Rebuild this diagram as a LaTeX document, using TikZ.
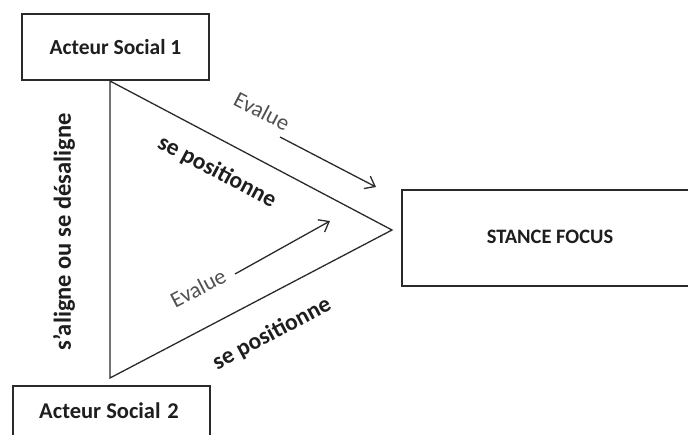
\documentclass[tikz,border=0pt]{standalone}
\usepackage{fontspec}
\setmainfont{Carlito}
\usetikzlibrary{arrows.meta}
\definecolor{ink}{HTML}{1E1E1E}
\definecolor{evgray}{HTML}{505050}
\definecolor{lineg}{HTML}{2A2A2A}
\begin{document}
\begin{tikzpicture}[x=1pt,y=-1pt,
  box/.style={draw=lineg,line width=1.5pt,fill=white,inner sep=0pt},
  boxtext/.style={font=\fontsize{21.5}{24}\selectfont\bfseries,text=ink},
  tri/.style={draw=lineg,line width=1.3pt},
  evarrow/.style={draw=lineg,line width=1.3pt,-{Straight Barb[length=9pt,width=14pt,line width=1.3pt]}},
  evlabel/.style={font=\fontsize{22.5}{24}\selectfont,text=evgray,inner sep=0pt},
  poslabel/.style={font=\fontsize{23.5}{24}\selectfont\bfseries,text=ink,inner sep=0pt}]
\useasboundingbox (0,0) rectangle (688,434);
% boxes
\node[box,minimum width=187pt,minimum height=66pt] (a1) at (115.5,47) {};
\node[boxtext] at (a1.center) {Acteur Social 1};
\node[box,minimum width=197pt,minimum height=80pt,anchor=north west] (a2) at (12,385) {};
\node[boxtext,font=\fontsize{22.5}{24}\selectfont\bfseries] at (109,411) {Acteur Social\hspace{0.3em}2};
\node[box,minimum width=300pt,minimum height=96pt,anchor=north west] (sf) at (401,189) {};
\node[boxtext,font=\fontsize{20.5}{24}\selectfont\bfseries] at (550,237) {STANCE FOCUS};
% triangle
\coordinate (t1) at (110,81);
\coordinate (t2) at (110,378);
\coordinate (tp) at (392,230);
\draw[tri,line join=miter] (t1) -- (tp) -- (t2) -- cycle;
% arrows
\coordinate (e1s) at (280,137);
\coordinate (e1e) at (376,187);
\coordinate (e2s) at (235,274);
\coordinate (e2e) at (330,221);
\draw[evarrow] (e1s) -- (e1e);
\draw[evarrow] (e2s) -- (e2e);
% labels
\node[evlabel,rotate=-27.5] (ev1) at (262,111) {Evalue};
\node[evlabel,rotate=27.5] (ev2) at (198,288) {Evalue};
\node[poslabel,rotate=-28] (sp1) at (217,172) {se positionne};
\node[poslabel,rotate=28] (sp2) at (272,334) {se positionne};
\node[poslabel,rotate=90,font=\fontsize{24.5}{26}\selectfont\bfseries] (al) at (64,232) {s’aligne ou se désaligne};
\end{tikzpicture}
\end{document}
